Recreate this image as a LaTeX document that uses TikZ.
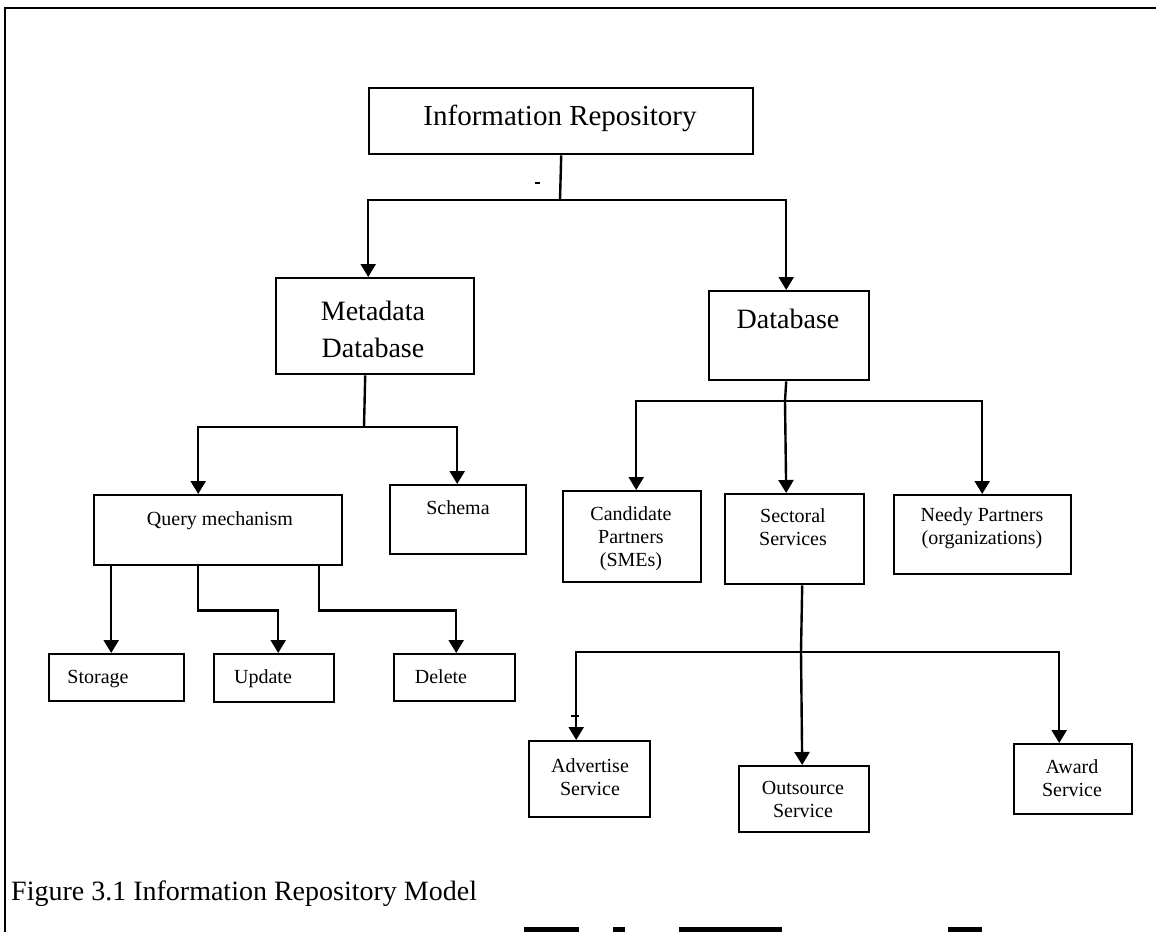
\documentclass[tikz,border=0pt]{standalone}
\usepackage{fontspec}
\setmainfont{Liberation Serif}
\usetikzlibrary{arrows.meta}

\begin{document}
\begin{tikzpicture}[x=1pt,y=-1pt,
  line/.style={line width=2.4pt, line join=miter},
  arr/.style={line, -{Triangle[width=15pt,length=13pt]}},
  box/.style={draw, line width=2.4pt, inner sep=0pt, anchor=north west},
  lbl/.style={anchor=base, inner sep=0pt},
  txtL/.style={lbl, font=\fontsize{29}{34}\selectfont},
  txtM/.style={lbl, font=\fontsize{28}{33}\selectfont},
  txtS/.style={lbl, font=\fontsize{20}{24}\selectfont}]

\useasboundingbox (0,0) rectangle (1156,932);

% page frame (top and left edges)
\draw[line width=2.5pt] (1156,8) -- (5,8) -- (5,932);

% boxes
\node[box, minimum width=384pt, minimum height=66pt] (info)    at (368,87)  {};
\node[box, minimum width=198pt, minimum height=96pt] (meta)    at (275,277) {};
\node[box, minimum width=160pt, minimum height=89pt] (db)      at (708,290) {};
\node[box, minimum width=248pt, minimum height=70pt] (query)   at (93,494)  {};
\node[box, minimum width=136pt, minimum height=69pt] (schema)  at (389,484) {};
\node[box, minimum width=135pt, minimum height=47pt] (storage) at (48,653)  {};
\node[box, minimum width=120pt, minimum height=48pt] (update)  at (213,653) {};
\node[box, minimum width=121pt, minimum height=47pt] (delete)  at (393,653) {};
\node[box, minimum width=138pt, minimum height=91pt] (cand)    at (562,490) {};
\node[box, minimum width=139pt, minimum height=90pt] (sect)    at (724,493) {};
\node[box, minimum width=177pt, minimum height=79pt] (needy)   at (893,494) {};
\node[box, minimum width=121pt, minimum height=76pt] (advert)  at (528,740) {};
\node[box, minimum width=130pt, minimum height=66pt] (outs)    at (738,765) {};
\node[box, minimum width=118pt, minimum height=70pt] (award)   at (1013,743) {};

% box texts
\node[txtL] (tInfo)   at (560,125) {Information Repository};
\node[txtM] (tMeta1)  at (373,320) {Metadata};
\node[txtM] (tMeta2)  at (373,357) {Database};
\node[txtM] (tDb)     at (788,328) {Database};
\node[txtS] (tQuery)  at (220,525) {Query mechanism};
\node[txtS] (tSchema) at (458,514) {Schema};
\node[txtS] (tStor)   at (98,683)  {Storage};
\node[txtS] (tUpd)    at (263,683) {Update};
\node[txtS] (tDel)    at (441,683) {Delete};
\node[txtS] (tCand1)  at (631,520) {Candidate};
\node[txtS] (tCand2)  at (631,543) {Partners};
\node[txtS] (tCand3)  at (631,566) {(SMEs)};
\node[txtS] (tSect1)  at (793,522) {Sectoral};
\node[txtS] (tSect2)  at (793,545) {Services};
\node[txtS] (tNeed1)  at (982,521) {Needy Partners};
\node[txtS] (tNeed2)  at (982,544) {(organizations)};
\node[txtS] (tAdv1)   at (590,772) {Advertise};
\node[txtS] (tAdv2)   at (590,795) {Service};
\node[txtS] (tOut1)   at (803,794) {Outsource};
\node[txtS] (tOut2)   at (803,817) {Service};
\node[txtS] (tAw1)    at (1072,773) {Award};
\node[txtS] (tAw2)    at (1072,796) {Service};

% junction points of the branch lines
\coordinate (hubA) at (560,200);
\coordinate (hubB) at (364,427);
\coordinate (hubC) at (785,401);
\coordinate (hubD) at (801,652);

% repository -> metadata database / database
\draw[line] (info.south) -- (hubA);
\draw[line, line width=1.2pt] (535,183) -- (540,183);
\draw[arr] (hubA) -| ([xshift=-7pt]meta.north);
\draw[arr] (hubA) -| ([xshift=-3pt]db.north);

% metadata database -> query mechanism / schema
\draw[line] ([xshift=-10pt]meta.south) -- (hubB);
\draw[arr] (hubB) -| ([xshift=-20pt]query.north);
\draw[arr] (hubB) -| ([xshift=-1pt]schema.north);

% query mechanism -> storage / update / delete
\draw[arr] ([xshift=-107pt]query.south) -- ([xshift=-5.5pt]storage.north);
\draw[arr] ([xshift=-20pt]query.south) -- ++(0,44) -| ([xshift=4pt]update.north);
\draw[arr] ([xshift=101pt]query.south) -- ++(0,44) -| ([xshift=1.5pt]delete.north);

% database -> partners / services
\draw[line] ([xshift=-3pt]db.south) -- (hubC);
\draw[arr] (hubC) -| ([xshift=4pt]cand.north);
\draw[arr] (hubC) -- ([xshift=-8.5pt]sect.north);
\draw[arr] (hubC) -| ([xshift=-0.5pt]needy.north);

% sectoral services -> advertise / outsource / award
\draw[line] ([xshift=7.5pt]sect.south) -- (hubD);
\draw[arr] (hubD) -| ([xshift=-13.5pt]advert.north);
\draw[line, line width=1.5pt] (571,716) -- (579,716);
\draw[arr] (hubD) -- ([xshift=-2pt]outs.north);
\draw[arr] (hubD) -| ([xshift=-14pt]award.north);

% caption
\node[txtM, anchor=base west] (caption) at (11,900) {Figure 3.1 Information Repository Model};

% clipped marks along the lower edge
\fill (524,927) rectangle (579,932);
\fill (613,927) rectangle (625,932);
\fill (679,927) rectangle (782,932);
\fill (948,927) rectangle (982,932);
\end{tikzpicture}
\end{document}
